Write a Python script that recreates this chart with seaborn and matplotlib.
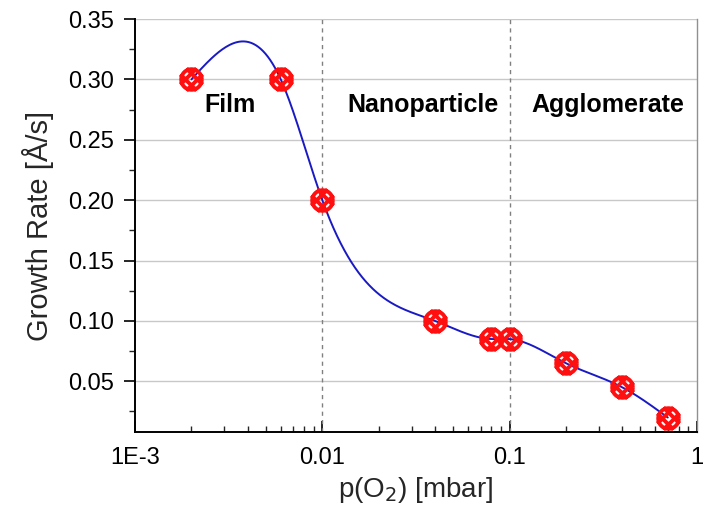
import numpy as np
import pandas as pd
import matplotlib
matplotlib.use("Agg")
import matplotlib.pyplot as plt
from matplotlib.path import Path
import seaborn as sns

# ---- data ----
pressure = [0.002, 0.006, 0.01, 0.04, 0.08, 0.1, 0.2, 0.4, 0.7]
growth_rate = [0.30, 0.30, 0.20, 0.10, 0.085, 0.085, 0.065, 0.045, 0.02]
regime_labels = ["Film", "Nanoparticle", "Agglomerate"]
regime_x = [0.0032, 0.0345, 0.335]
regime_y = [0.279, 0.279, 0.279]
boundaries = [0.01, 0.1]
xtick_vals = [0.001, 0.01, 0.1, 1]
xtick_labels = ["1E-3", "0.01", "0.1", "1"]
ytick_vals = [0.05, 0.10, 0.15, 0.20, 0.25, 0.30, 0.35]


def natural_spline(x, y, xs):
    x = np.asarray(x, float); y = np.asarray(y, float)
    n = len(x)
    h = np.diff(x)
    A = np.zeros((n, n)); b = np.zeros(n)
    A[0, 0] = 1; A[-1, -1] = 1
    for i in range(1, n - 1):
        A[i, i - 1] = h[i - 1]
        A[i, i] = 2 * (h[i - 1] + h[i])
        A[i, i + 1] = h[i]
        b[i] = 3 * ((y[i + 1] - y[i]) / h[i] - (y[i] - y[i - 1]) / h[i - 1])
    c = np.linalg.solve(A, b)
    out = np.empty_like(xs)
    for k, xv in enumerate(xs):
        i = min(max(np.searchsorted(x, xv) - 1, 0), n - 2)
        bi = (y[i + 1] - y[i]) / h[i] - h[i] * (2 * c[i] + c[i + 1]) / 3
        di = (c[i + 1] - c[i]) / (3 * h[i])
        t = xv - x[i]
        out[k] = y[i] + bi * t + c[i] * t ** 2 + di * t ** 3
    return out


lx = np.log10(pressure)
xs = np.linspace(lx[0], lx[-1], 400)
curve = pd.DataFrame({"p": 10 ** xs, "r": natural_spline(lx, growth_rate, xs)})
pts = pd.DataFrame({"p": pressure, "r": growth_rate})

# custom hatched marker (rotated # with round outline)
verts, codes = [], []
d = 0.30
for off in (-d, d):
    for (a, b2) in [((-0.8, off), (0.8, off)), ((off, -0.8), (off, 0.8))]:
        verts += [a, b2]
        codes += [Path.MOVETO, Path.LINETO]
ang = np.deg2rad(45)
R = np.array([[np.cos(ang), -np.sin(ang)], [np.sin(ang), np.cos(ang)]])
verts = [tuple(R @ np.array(v)) for v in verts]
th = np.linspace(0, 2 * np.pi, 61)
for i, t in enumerate(th):
    verts.append((0.72 * np.cos(t), 0.72 * np.sin(t)))
    codes.append(Path.MOVETO if i == 0 else Path.LINETO)
hatch_marker = Path(verts, codes)

sns.set_theme(style="white")
plt.rcParams["font.family"] = ["Liberation Sans", "DejaVu Sans"]

fig = plt.figure(figsize=(7.11, 5.14), dpi=100)
ax = fig.add_axes([0.190, 0.1595, 0.790, 0.8035])

for yv in ytick_vals:
    ax.axhline(yv, color="#c8c8c8", lw=1.0, zorder=0)
for bx in boundaries:
    ax.axvline(bx, color="#808080", lw=1.0, ls=(0, (3, 3)), zorder=1)

sns.lineplot(data=curve, x="p", y="r", ax=ax, color="#1a1ac4", lw=1.4, zorder=2)
ax.plot(pts["p"], pts["r"], ls="none", marker=hatch_marker, markersize=16,
        markerfacecolor="none", markeredgecolor="#ff1010", markeredgewidth=2.8,
        zorder=3)

for lab, xv, yv in zip(regime_labels, regime_x, regime_y):
    ax.text(xv, yv, lab, ha="center", va="center", fontsize=18,
            fontweight="bold", color="black")

ax.set_xscale("log")
ax.set_xlim(0.001, 1)
ax.set_ylim(0.008, 0.35)
ax.set_xticks(xtick_vals)
ax.set_xticklabels(xtick_labels)
ax.set_yticks(ytick_vals)
ax.set_yticklabels([f"{v:.2f}" for v in ytick_vals])
ax.yaxis.set_minor_locator(matplotlib.ticker.MultipleLocator(0.025))
ax.xaxis.set_minor_locator(matplotlib.ticker.LogLocator(base=10, subs=np.arange(2, 10)))
ax.xaxis.set_minor_formatter(matplotlib.ticker.NullFormatter())

ax.tick_params(axis="x", which="major", direction="in", length=8, width=1.2,
               labelsize=17, pad=11, colors="black", bottom=True)
ax.tick_params(axis="x", which="minor", direction="in", length=4, width=1.0,
               bottom=True)
ax.tick_params(axis="y", which="major", direction="out", length=8, width=1.2,
               labelsize=17, pad=7, colors="black", left=True)
ax.tick_params(axis="y", which="minor", direction="out", length=4, width=1.0,
               left=True)

for s in ["left", "bottom"]:
    ax.spines[s].set_color("black")
    ax.spines[s].set_linewidth(1.4)
ax.spines["right"].set_color("#909090")
ax.spines["right"].set_linewidth(1.0)
ax.spines["top"].set_visible(False)

ax.set_xlabel(r"p(O$_2$) [mbar]", fontsize=20, labelpad=4)
ax.set_ylabel("Growth Rate [Å/s]", fontsize=21, labelpad=10)

fig.savefig("out.png", dpi=100)
